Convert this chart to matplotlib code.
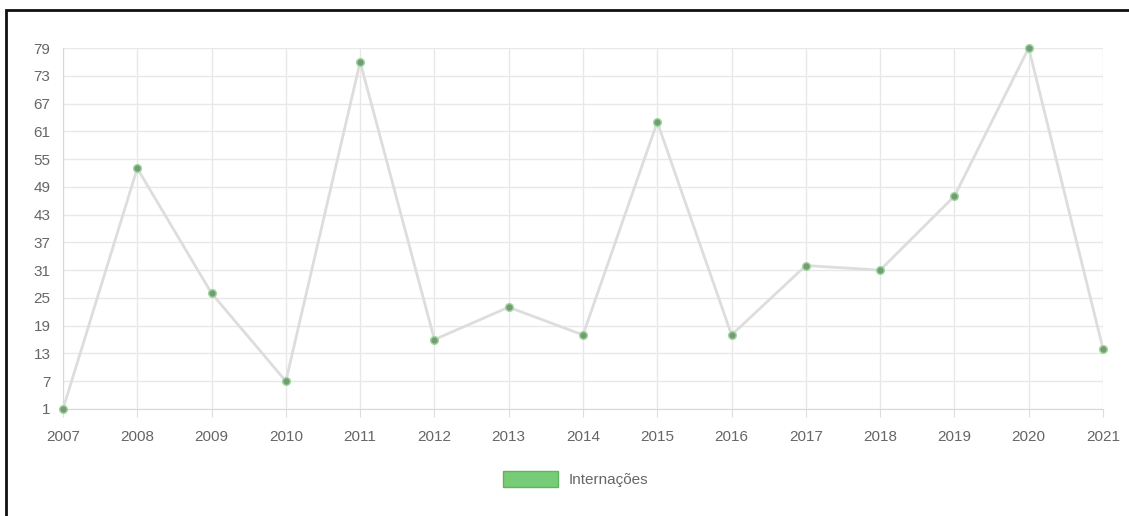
import matplotlib.pyplot as plt
from matplotlib.patches import Rectangle, Patch

years = ['2007', '2008', '2009', '2010', '2011', '2012', '2013', '2014',
         '2015', '2016', '2017', '2018', '2019', '2020', '2021']
internacoes = [1, 53, 26, 7, 76, 16, 23, 17, 63, 17, 32, 31, 47, 79, 14]
yticks = list(range(1, 80, 6))

W, H = 1129, 516
fig = plt.figure(figsize=(W / 100, H / 100), dpi=100)
plt.rcParams['font.family'] = ['Liberation Sans', 'DejaVu Sans']

# outer frame (runs off the right and bottom edges)
fig.patches.append(Rectangle((6 / W, -0.1), 1.2, 1 - 10 / H + 0.1,
                             transform=fig.transFigure, fill=False,
                             edgecolor='#111111', linewidth=2))

ax = fig.add_axes([63 / W, 1 - 409 / H, (1103 - 63) / W, (409 - 48) / H])
x = list(range(len(years)))
ax.plot(x, internacoes, color='#dddddd', linewidth=2, zorder=2)
ax.plot(x, internacoes, linestyle='none', marker='o', markersize=5.5,
        markerfacecolor='#769a76', markeredgecolor='#9ad89a',
        markeredgewidth=1, zorder=3, clip_on=False)

ax.set_xlim(0, len(years) - 1)
ax.set_ylim(1, 79)
ax.set_xticks(x)
ax.set_xticklabels(years)
ax.set_yticks(yticks)
ax.grid(True, color='#e8e8e8', linewidth=1)
ax.set_axisbelow(True)
for s in ax.spines.values():
    s.set_visible(False)
ax.spines['left'].set_visible(True)
ax.spines['bottom'].set_visible(True)
ax.spines['left'].set_color('#d8d8d8')
ax.spines['bottom'].set_color('#d8d8d8')
ax.tick_params(axis='both', colors='#dddddd', labelcolor='#666666',
               labelsize=11)
ax.tick_params(axis='x', length=6, pad=9)
ax.tick_params(axis='y', length=0, pad=9)

handle = Patch(facecolor='#77cc77', edgecolor='#5fb45f', label='Internações')
fig.legend(handles=[handle], loc='center', bbox_to_anchor=(576 / W, 1 - 479 / H),
           frameon=False, fontsize=11, handlelength=3.6, handleheight=1.2,
           handletextpad=0.7, labelcolor='#666666')

fig.savefig('out.png', dpi=100)
